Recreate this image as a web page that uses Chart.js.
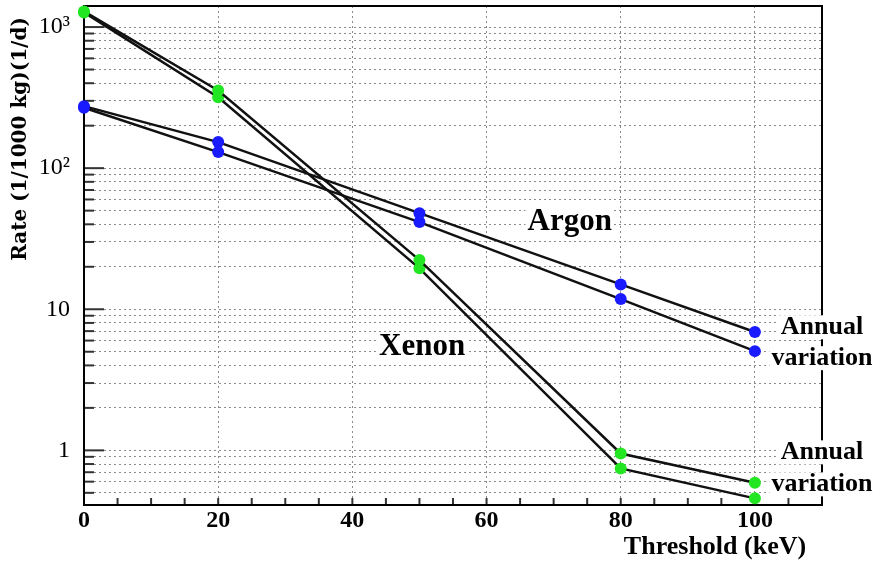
<!DOCTYPE html>
<html>
<head>
<meta charset="utf-8">
<script src="https://cdn.jsdelivr.net/npm/chart.js@4.4.1/dist/chart.umd.min.js"></script>
<style>
  body { margin: 0; background: #fff; }
  canvas { display: block; }
</style>
</head>
<body>
<canvas id="rateChart" width="875" height="562"></canvas>
<script>
// threshold energies (keV) and rates, two curves per target for the annual variation
const thresholds = [0, 20, 50, 80, 100];
const argonHigh = [275, 153, 48, 15.0, 6.9];
const argonLow = [268, 130, 41.5, 11.8, 5.05];
const xenonHigh = [1290, 355, 22.3, 0.95, 0.59];
const xenonLow = [1270, 318, 19.5, 0.745, 0.457];

const xTickLabels = [0, 20, 40, 60, 80, 100];
const yDecades = [1, 10, 100, 1000];
const yDecadeLabels = ["1", "10", "10²", "10³"];

const noteTexts = ["Argon", "Xenon", "Annual", "variation", "Annual", "variation"];
const noteX = [72.4, 50.4, 110, 110, 110, 110];
const noteY = [41.6, 5.37, 7.45, 4.5, 0.968, 0.574];

const Y_MIN = 0.41, Y_MAX = 1410;
const SERIF = "'Liberation Serif', 'Times New Roman', serif";

// all the 1..9 x decade ticks inside the range
function logTicks() {
    const out = [];
    [0.1, 1, 10, 100, 1000].forEach((d) => {
        for (let k = 1; k <= 9; k++) {
            const v = +(d * k).toPrecision(3);
            if (v >= Y_MIN && v <= Y_MAX) out.push(v);
        }
    });
    return out;
}

function series(values, color) {
    return {
        data: values.map((v, i) => ({ x: thresholds[i], y: v })),
        borderColor: "#111",
        borderWidth: 2.5,
        pointBackgroundColor: color,
        pointBorderWidth: 0,
        pointRadius: 6,
        tension: 0,
        clip: false,
    };
}

const decorations = {
    id: "decorations",
    beforeDatasetsDraw(chart) {
        const { ctx, chartArea: a, scales } = chart;
        ctx.save();
        ctx.strokeStyle = "#333";
        ctx.lineWidth = 2;
        // inward ticks on the left axis
        scales.y.ticks.forEach((t) => {
            const y = scales.y.getPixelForValue(t.value);
            const len = yDecades.includes(t.value) ? 20 : 10;
            ctx.beginPath();
            ctx.moveTo(a.left, y);
            ctx.lineTo(a.left + len, y);
            ctx.stroke();
        });
        // inward ticks on the bottom axis
        scales.x.ticks.forEach((t) => {
            const x = scales.x.getPixelForValue(t.value);
            ctx.beginPath();
            ctx.moveTo(x, a.bottom);
            ctx.lineTo(x, a.bottom - 7);
            ctx.stroke();
        });
        ctx.strokeStyle = "#000";
        ctx.lineWidth = 2;
        ctx.strokeRect(a.left, a.top, a.right - a.left, a.bottom - a.top);
        ctx.restore();
    },
    afterDraw(chart) {
        const { ctx, scales } = chart;
        ctx.save();
        ctx.fillStyle = "#000";
        ctx.textAlign = "center";
        ctx.textBaseline = "middle";
        noteTexts.forEach((txt, i) => {
            const x = scales.x.getPixelForValue(noteX[i]);
            const y = scales.y.getPixelForValue(noteY[i]);
            ctx.font = "bold " + (i < 2 ? 31 : 26) + "px " + SERIF;
            const w = ctx.measureText(txt).width;
            ctx.fillStyle = "#fff";
            ctx.fillRect(x - w / 2 - 2, y - 12, w + 4, 24);
            ctx.fillStyle = "#000";
            ctx.fillText(txt, x, y);
        });
        // axis titles
        ctx.font = "bold 26px " + SERIF;
        ctx.fillText("Threshold (keV)", 715, 547);
        ctx.translate(21, 139);
        ctx.rotate(-Math.PI / 2);
        ctx.font = "bold 20px 'DejaVu Serif', serif";
        ctx.fillText("Rate (1/1000 kg)(1/d)", 0, 0);
        ctx.restore();
    },
};

new Chart(document.getElementById("rateChart"), {
    type: "line",
    data: {
        datasets: [
            series(argonHigh, "#1a1aff"),
            series(argonLow, "#1a1aff"),
            series(xenonHigh, "#22e622"),
            series(xenonLow, "#22e622"),
        ],
    },
    options: {
        responsive: false,
        animation: false,
        layout: { padding: { top: 6, right: 53, left: 0, bottom: 0 } },
        plugins: { legend: { display: false }, tooltip: { enabled: false } },
        scales: {
            x: {
                type: "linear",
                min: 0,
                max: 110,
                afterFit: (s) => {
                    s.height = 57;
                    s.paddingLeft = 0;
                    s.paddingRight = 0;
                },
                ticks: {
                    stepSize: 5,
                    autoSkip: false,
                    maxRotation: 0,
                    padding: 1,
                    color: "#000",
                    font: { family: SERIF, size: 24, weight: "bold" },
                    callback: (v) => (xTickLabels.includes(v) ? String(v) : ""),
                },
                grid: {
                    drawTicks: false,
                    lineWidth: 1,
                    color: (c) =>
                        c.tick && c.tick.value > 0 && xTickLabels.includes(c.tick.value)
                            ? "#8a8a8a"
                            : "rgba(0,0,0,0)",
                },
                border: { display: false, dash: [2, 3] },
            },
            y: {
                type: "logarithmic",
                min: Y_MIN,
                max: Y_MAX,
                afterBuildTicks: (axis) => {
                    axis.ticks = logTicks().map((v) => ({ value: v }));
                },
                afterFit: (s) => {
                    s.width = 84;
                    s.paddingTop = 0;
                    s.paddingBottom = 0;
                },
                ticks: {
                    autoSkip: false,
                    padding: 14,
                    color: "#000",
                    font: { family: SERIF, size: 24 },
                    callback: (v) => {
                        const i = yDecades.indexOf(v);
                        return i >= 0 ? yDecadeLabels[i] : "";
                    },
                },
                grid: {
                    drawTicks: false,
                    lineWidth: 1,
                    color: "#8a8a8a",
                },
                border: { display: false, dash: [2, 3] },
            },
        },
    },
    plugins: [decorations],
});
</script>
</body>
</html>
